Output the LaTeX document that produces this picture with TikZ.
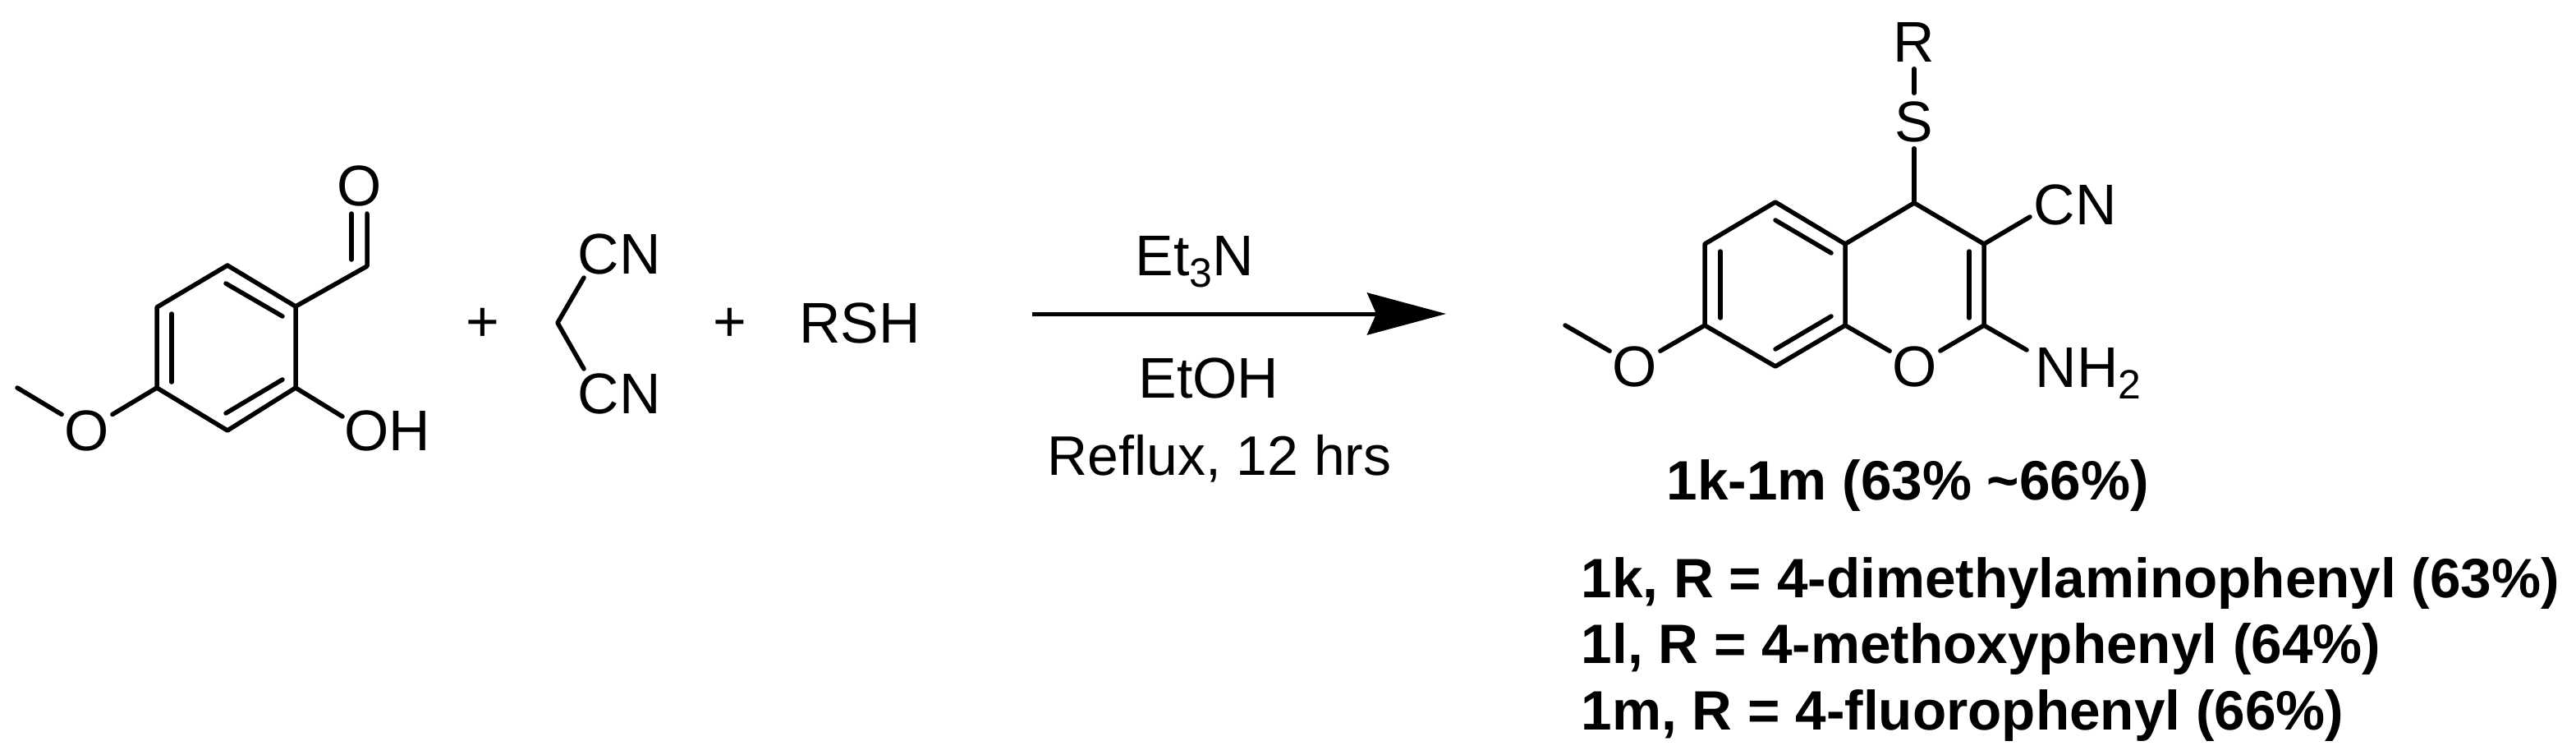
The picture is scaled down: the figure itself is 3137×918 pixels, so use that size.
\documentclass[tikz,border=0pt]{standalone}
\usepackage{fontspec}
\setmainfont{Liberation Sans}
\usetikzlibrary{arrows.meta}
\newcommand{\chemsub}[1]{\raisebox{-.14cm}{\fontsize{14.2}{16}\selectfont #1}}
\tikzset{
  bond/.style={line width=.055cm, line cap=round, line join=round},
  atom/.style={font=\fontsize{19.85}{24}\selectfont, text height=.5cm, text depth=0pt, inner sep=.03cm, anchor=base},
  yield/.style={font=\fontsize{19.2}{24}\selectfont\bfseries, inner sep=.03cm, anchor=base west},
}
\begin{document}
\begin{tikzpicture}[x=.01cm,y=-.01cm]
\useasboundingbox (0,0) rectangle (3137,918);
% aldehyde
\coordinate (a1) at (277,323);
\coordinate (a2) at (360,373);
\coordinate (a3) at (360,472);
\coordinate (a4) at (277,524);
\coordinate (a5) at (191,472);
\coordinate (a6) at (191,374);
\coordinate (a7) at (447,324);
\coordinate (a8) at (21,472);
\coordinate (ohbond) at (417,507);
\coordinate (cho1) at (447,260);
\coordinate (cho2) at (428,260);
\coordinate (cho3) at (428,316);
\node[atom] (aldo) at (438,250) {O};
\node[atom] (ome) at (106,548) {O};
\node[atom] (oh) at (472,548) {OH};
\draw[bond] (a1) -- (a2) -- (a3) -- (a4) -- (a5) -- (a6) -- (a1);
\draw[bond] (a2) -- (a7) -- (cho1);
\draw[bond] (cho2) -- (cho3);
\draw[bond] (a3) -- (ohbond);
\draw[bond] (a5) -- (ome) -- (a8);
\coordinate (a9) at (209,382);
\coordinate (a10) at (209,465);
\coordinate (a11) at (275,345);
\coordinate (a12) at (344,385);
\coordinate (a13) at (344,462);
\coordinate (a14) at (275,503);
\draw[bond] (a9) -- (a10);
\draw[bond] (a11) -- (a12);
\draw[bond] (a13) -- (a14);
\node[atom] (plus1) at (588,415) {+};
% malononitrile
\coordinate (m1) at (679,393);
\coordinate (m2) at (711,338);
\coordinate (m3) at (711,449);
\node[atom] (cn1) at (754,333) {CN};
\node[atom] (cn2) at (754,503) {CN};
\draw[bond] (m2) -- (m1) -- (m3);
\node[atom] (plus2) at (889,415) {+};
\node[atom] (rsh) at (1047,417) {RSH};
% arrow
\coordinate (arrs) at (1257,382);
\coordinate (arre) at (1761,382);
\draw[line width=.05cm,-{Stealth[length=.96cm,width=.51cm,inset=.11cm]}] (arrs) -- (arre);
\node[atom] (base) at (1455,335) {Et\chemsub{3}N};
\node[atom] (solv) at (1472,484) {EtOH};
\node[atom,font=\fontsize{19.3}{24}\selectfont] (cond) at (1485,578) {Reflux, 12 hrs};
% product
\coordinate (p1) at (2331,247);
\coordinate (p2) at (2416,297);
\coordinate (p3) at (2416,396);
\coordinate (p4) at (2247,396);
\coordinate (p5) at (2247,297);
\coordinate (p6) at (2162,246);
\coordinate (p7) at (2076,297);
\coordinate (p8) at (2076,396);
\coordinate (p9) at (2162,446);
\coordinate (p10) at (1906,396);
\coordinate (p11) at (2472,264);
\coordinate (p12) at (2468,426);
\node[atom,inner sep=.08cm] (r) at (2331,75) {R};
\node[atom,inner sep=.08cm] (s) at (2331,172) {S};
\node[atom] (o1) at (2332,470) {O};
\node[atom] (o2) at (1991,470) {O};
\node[atom] (cn3) at (2527,273) {CN};
\node[atom,anchor=base west] (nh) at (2475,471) {NH\chemsub{2}};
\draw[bond] (r) -- (s) -- (p1);
\draw[bond] (p1) -- (p2) -- (p3) -- (o1) -- (p4) -- (p5) -- (p1);
\draw[bond] (p5) -- (p6) -- (p7) -- (p8) -- (p9) -- (p4);
\draw[bond] (p8) -- (o2) -- (p10);
\draw[bond] (p2) -- (p11);
\draw[bond] (p3) -- (p12);
\coordinate (p13) at (2095,306);
\coordinate (p14) at (2095,387);
\coordinate (p15) at (2162,268);
\coordinate (p16) at (2230,308);
\coordinate (p17) at (2162,425);
\coordinate (p18) at (2230,385);
\coordinate (p19) at (2398,306);
\coordinate (p20) at (2398,387);
\draw[bond] (p13) -- (p14);
\draw[bond] (p15) -- (p16);
\draw[bond] (p17) -- (p18);
\draw[bond] (p19) -- (p20);
% yields
\node[yield] (title) at (2026,608) {1k-1m (63\% \textasciitilde66\%)};
\node[yield] (yk) at (1922,727) {1k, R = 4-dimethylaminophenyl (63\%)};
\node[yield] (yl) at (1922,807) {1l, R = 4-methoxyphenyl (64\%)};
\node[yield] (ym) at (1922,888) {1m, R = 4-fluorophenyl (66\%)};
\end{tikzpicture}
\end{document}
